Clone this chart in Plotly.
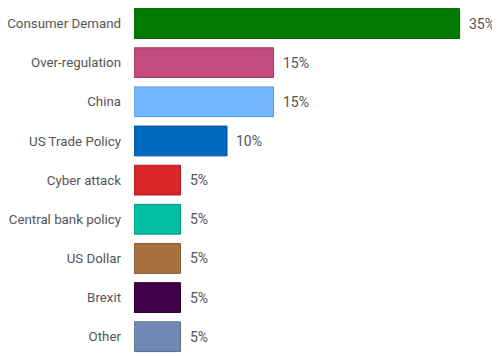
import plotly.graph_objects as go

categories = ["Consumer Demand", "Over-regulation", "China", "US Trade Policy",
              "Cyber attack", "Central bank policy", "US Dollar", "Brexit", "Other"]
values = [35, 15, 15, 10, 5, 5, 5, 5, 5]
labels = ["35%", "15%", "15%", "10%", "5%", "5%", "5%", "5%", "5%"]
colors = ["#007a00", "#c44b7e", "#72b6fb", "#0069c0", "#d9262b",
          "#00bfa2", "#a8713f", "#3f0048", "#6f89b3"]
borders = ["#005a00", "#9c3a63", "#5a98d8", "#00519a", "#a81d21",
           "#00977f", "#84572f", "#2a0030", "#566d92"]

fig = go.Figure(go.Bar(
    x=values, y=categories, orientation="h",
    marker=dict(color=colors, line=dict(color=borders, width=1)),
    hoverinfo="skip",
))

for v, c, t in zip(values, categories, labels):
    fig.add_annotation(x=v, y=c, text=t, showarrow=False, xanchor="left",
                       xshift=7, font=dict(size=14, color="#555555"))

fig.update_layout(
    width=500, height=356,
    margin=dict(l=126, r=0, t=0, b=0),
    paper_bgcolor="white", plot_bgcolor="white",
    font=dict(family="Roboto", size=13.3, color="#555555"),
    bargap=0.24,
    showlegend=False,
    xaxis=dict(range=[0, 40.2], visible=False),
    yaxis=dict(range=[8.697, -0.396], showgrid=False, zeroline=False,
               showline=False, ticks="", ticklabelstandoff=12,
               automargin=False),
)

fig.write_html("out.html")
